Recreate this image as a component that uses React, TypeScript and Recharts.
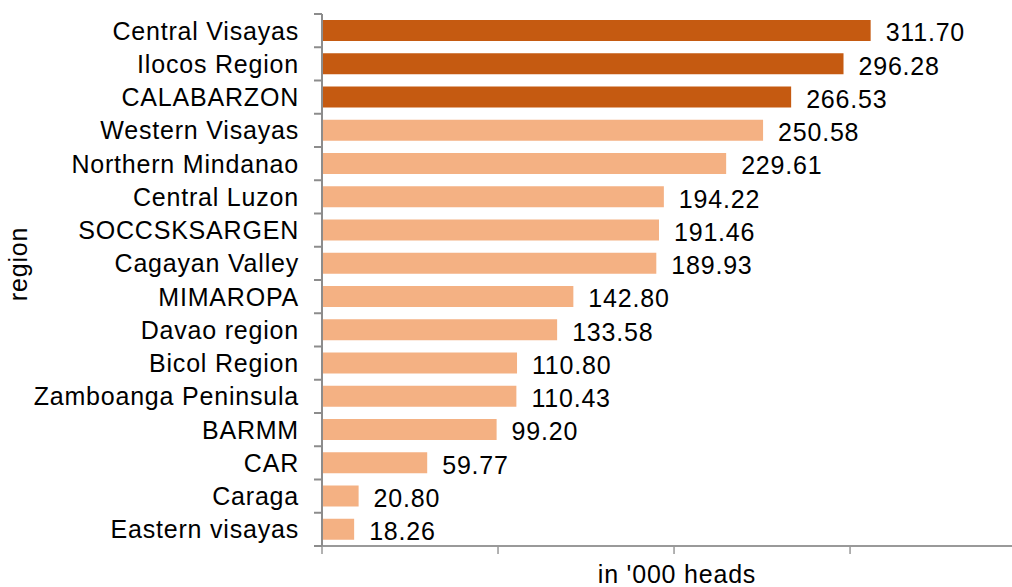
import { Bar, BarChart, Cell, LabelList, XAxis, YAxis } from "recharts";

const regions = [
  "Central Visayas",
  "Ilocos Region",
  "CALABARZON",
  "Western Visayas",
  "Northern Mindanao",
  "Central Luzon",
  "SOCCSKSARGEN",
  "Cagayan Valley",
  "MIMAROPA",
  "Davao region",
  "Bicol Region",
  "Zamboanga Peninsula",
  "BARMM",
  "CAR",
  "Caraga",
  "Eastern visayas",
];

const heads = [
  311.7, 296.28, 266.53, 250.58, 229.61, 194.22, 191.46, 189.93, 142.8, 133.58, 110.8, 110.43, 99.2,
  59.77, 20.8, 18.26,
];

const xTicks = [0, 100, 200, 300];
const topCount = 3;

const data = regions.map((region, i) => ({ region, heads: heads[i] }));

const FONT = "'Liberation Sans', Arial, sans-serif";
const FS = 25;
const LS = 0.8;
const BAND = 532 / regions.length;

function RegionTick(props: any) {
  const { x, y, payload, index } = props;
  const last = index === regions.length - 1;
  return (
    <g>
      <line x1={x + 15} x2={x + 23} y1={y - BAND / 2} y2={y - BAND / 2} stroke="#8c8c8c" strokeWidth={2} />
      {last && (
        <line x1={x + 15} x2={x + 23} y1={y + BAND / 2} y2={y + BAND / 2} stroke="#8c8c8c" strokeWidth={2} />
      )}
      <text
        x={x}
        y={y}
        dy={9}
        textAnchor="end"
        fill="#000"
        fontSize={FS}
        letterSpacing={LS}
        fontFamily={FONT}
      >
        {payload.value}
      </text>
    </g>
  );
}

function ValueTick(props: any) {
  const { x, y } = props;
  return <line x1={x} x2={x} y1={y} y2={y + 8} stroke="#999" strokeWidth={1.5} />;
}

export default function App() {
  return (
    <div style={{ position: "absolute", left: 0, top: 0, background: "#fff" }}>
      <BarChart
        width={1012}
        height={587}
        data={data}
        layout="vertical"
        margin={{ top: 14, right: 0, bottom: 0, left: 0 }}
        barCategoryGap={6}
      >
        <XAxis
          type="number"
          domain={[0, 392]}
          ticks={xTicks}
          tick={<ValueTick />}
          tickLine={false}
          tickSize={0}
          tickMargin={0}
          height={41}
          axisLine={{ stroke: "#999", strokeWidth: 2 }}
          label={{
            content: () => (
              <text
                x={677}
                y={583}
                textAnchor="middle"
                fill="#000"
                fontSize={FS}
                letterSpacing={LS}
                fontFamily={FONT}
              >
                in '000 heads
              </text>
            ),
          }}
        />
        <XAxis
          xAxisId="top"
          type="number"
          orientation="top"
          domain={[0, 392]}
          height={0}
          tick={false}
          tickLine={false}
          axisLine={{ stroke: "#c0c0c0", strokeWidth: 2 }}
        />
        <YAxis
          type="category"
          dataKey="region"
          width={322}
          tickLine={false}
          tickSize={0}
          tick={<RegionTick />}
          tickMargin={23}
          interval={0}
          axisLine={{ stroke: "#8c8c8c", strokeWidth: 2 }}
          label={{
            content: () => (
              <text
                x={27}
                y={264}
                transform="rotate(-90 27 264)"
                textAnchor="middle"
                fill="#000"
                fontSize={FS}
                letterSpacing={LS}
                fontFamily={FONT}
              >
                region
              </text>
            ),
          }}
        />
        <Bar dataKey="heads" isAnimationActive={false}>
          {data.map((d, i) => (
            <Cell key={d.region} fill={i < topCount ? "#C55A11" : "#F4B183"} />
          ))}
          <LabelList
            dataKey="heads"
            position="right"
            offset={15}
            dy={2}
            formatter={(v: any) => Number(v).toFixed(2)}
            fill="#000"
            fontSize={FS}
            letterSpacing={LS}
            fontFamily={FONT}
          />
        </Bar>
      </BarChart>
    </div>
  );
}
